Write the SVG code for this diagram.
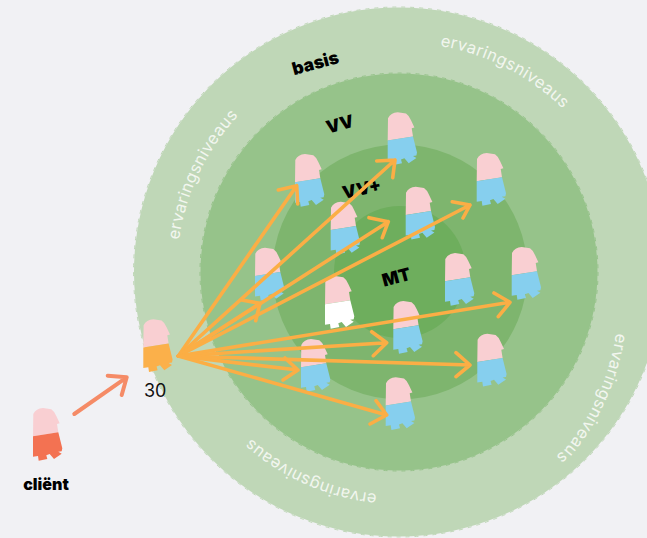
<svg xmlns="http://www.w3.org/2000/svg" width="647" height="538" viewBox="0 0 647 538">
<style>
.edge{fill:none;stroke-width:1;stroke-dasharray:4 5}
.lvl{font-family:Inter,"Liberation Sans",sans-serif;font-weight:900;font-size:17.5px;fill:#000;text-anchor:middle}
.ring{font-family:Inter,"Liberation Sans",sans-serif;font-weight:400;font-size:16.500px;fill:#f2f6ef;letter-spacing:.4px}
.a{fill:none;stroke:#fbae45;stroke-width:3.6;stroke-linecap:round;stroke-linejoin:round}
.c{fill:none;stroke:#f58b66;stroke-width:4;stroke-linecap:round;stroke-linejoin:round}
</style>
<defs>
<g id="p">
<path fill="#f9cfd2" d="M0,28.3L.3,6Q3,.5 10,0L18.3,1.3Q21,3 23.3,8L26.7,15.3L24,16L25.3,24.3Z"/>
<path d="M0,28.3L25.3,24.3L29.3,40.3L28.7,43.3L25.3,43.700L28.7,45.7L21,51L16.7,46L13.3,47.3L14.3,51L5.7,52.7L5,48L0,48.7Z"/>
</g>
<path id="t1" d="M179,240A230 230 0 0 1 269,88"/>
<path id="t2" d="M440,46A230 230 0 0 1 598,153"/>
<path id="t3" d="M616,333A235 235 0 0 1 565,449L544,465"/>
<path id="t4" d="M377,494A224 224 0 0 1 205,382"/>
</defs>
<rect width="647" height="538" fill="#f1f1f4"/>
<g id="rings">
<g id="ring-basis"><circle cx="398.500" cy="272" r="264.500" fill="#bfd7b7"/><circle class="edge" cx="398.500" cy="272" r="265" stroke="#bfd7b7"/></g>
<g id="ring-vv"><circle cx="399" cy="272" r="198.500" fill="#96c38a"/><circle class="edge" cx="399" cy="272" r="199" stroke="#96c38a"/></g>
<circle id="ring-vvplus" cx="400" cy="272" r="127.500" fill="#7eb56e"/>
<circle id="ring-mt" cx="400" cy="272" r="66" fill="#6eae5d"/>
</g>
<g id="ring-labels">
<text class="ring"><textPath href="#t1">ervaringsniveaus</textPath></text>
<text class="ring"><textPath href="#t2">ervaringsniveaus</textPath></text>
<text class="ring"><textPath href="#t3">ervaringsniveaus</textPath></text>
<text class="ring"><textPath href="#t4">ervaringsniveaus</textPath></text>
<text class="lvl" transform="translate(317 69) rotate(-15)">basis</text>
<text class="lvl" transform="translate(341.500 130) rotate(-15)">VV</text>
<text class="lvl" transform="translate(363 195) rotate(-12)">VV+</text>
<text class="lvl" transform="translate(398 283) rotate(-15)">MT</text>
</g>
<g id="client"><use href="#p" x="33" y="408" fill="#f37252"/><text x="46" y="490" text-anchor="middle" font-family="Inter,'Liberation Sans',sans-serif" font-weight="900" font-size="16" fill="#000">cliënt</text></g>
<g id="hub"><use href="#p" x="143.300" y="319.300" fill="#fbb04a"/><text x="144" y="397" font-family="Inter,'Liberation Sans',sans-serif" font-size="18" fill="#111">30</text></g>
<g id="staff" fill="#86cfee">
<use id="n1" href="#p" x="295" y="154"/>
<use id="n2" href="#p" x="387.700" y="112.300"/>
<use id="n3" href="#p" x="476.700" y="153"/>
<use id="n4" href="#p" x="330.700" y="201.700"/>
<use id="n5" href="#p" x="405.700" y="186.700"/>
<use id="n6" href="#p" x="255" y="247.700"/>
<use id="n7" href="#p" x="445" y="253"/>
<use id="n8" href="#p" x="511.700" y="247"/>
<use id="n9" href="#p" x="325" y="276" fill="#fff"/>
<use id="n10" href="#p" x="393.300" y="301"/>
<use id="n11" href="#p" x="477.300" y="333.700"/>
<use id="n12" href="#p" x="301" y="339"/>
<use id="n13" href="#p" x="385.700" y="377.300"/>
</g>
<g id="connectors">
<path class="c" d="M74.300,414L126.700,377.300M107.700,375.700L126.700,377.300L121.700,395"/>
<path class="a" d="M178.300,356L296.700,185.700M278.300,190L296.700,185.700L297.700,204"/>
<path class="a" d="M178.300,356L395,160M376.700,161L395,160L392.700,177.700"/>
<path class="a" d="M178.300,356L388.300,221.700M369,217.700L388.300,221.700L382.300,237.700"/>
<path class="a" d="M178.300,356L470,205M452.300,201.700L470,205L463,218"/>
<path class="a" d="M178.300,356L260,303.300M241.700,300L260,303.300L255.700,320.700"/>
<path class="a" d="M178.300,356L510,302.300M494,293L510,302.300L498.300,316.700"/>
<path class="a" d="M178.300,356L386.700,342.700M371.700,331.700L386.700,342.700L373.300,355.700"/>
<path class="a" d="M178.300,356L470,365M456,352.700L470,365L456,376.700"/>
<path class="a" d="M178.300,356L298,370M285,358L298,370L283,380"/>
<path class="a" d="M178.300,356L386.700,415M376,400.700L386.700,415L370,424"/>
</g>
</svg>
